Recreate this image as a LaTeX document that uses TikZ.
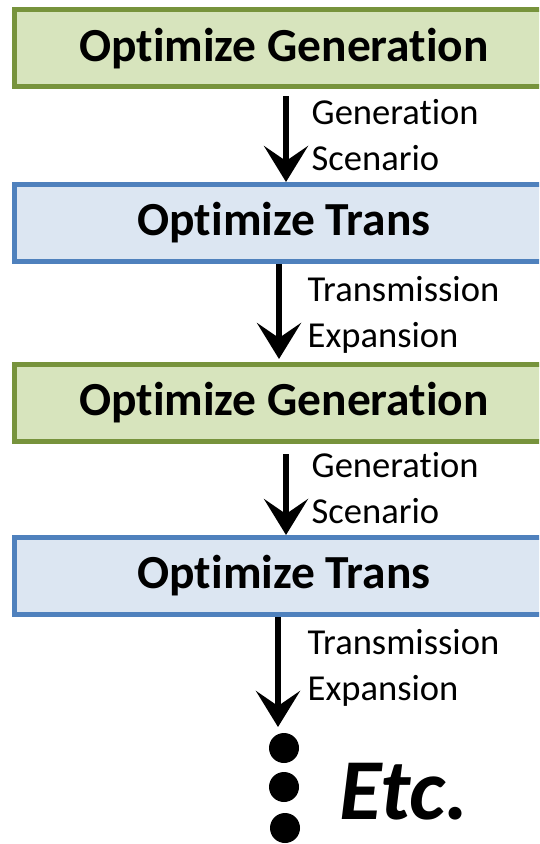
\documentclass[tikz,border=0pt]{standalone}
\usepackage{fontspec}
\setmainfont{Carlito}[RawFeature={-liga,-clig,-dlig}]
\usetikzlibrary{arrows.meta}
\definecolor{genline}{HTML}{77933C}
\definecolor{genfill}{HTML}{D7E4BD}
\definecolor{transline}{HTML}{4F81BD}
\definecolor{transfill}{HTML}{DCE6F2}
\tikzset{
  stage/.style={rectangle,line width=0.05cm,minimum width=5.38cm,minimum height=0.77cm,
    inner sep=0pt,font=\fontsize{13.5}{16}\selectfont\bfseries},
  genbox/.style={stage,draw=genline,fill=genfill},
  transbox/.style={stage,draw=transline,fill=transfill},
  flow/.style={line width=0.06cm,-{Stealth[length=0.36cm,width=0.44cm,inset=0.15cm]}},
  passed/.style={anchor=west,align=left,inner sep=0pt,font=\fontsize{10.4}{13.1}\selectfont}
}
\begin{document}
\begin{tikzpicture}
\useasboundingbox (0,0) rectangle (5.39,-8.44);
\begin{scope}
\clip (0,0) rectangle (5.39,-8.44);
\node[genbox] (gen1) at (2.84,-0.485) {Optimize Generation};
\node[transbox] (trans1) at (2.84,-2.23) {Optimize Trans};
\node[genbox] (gen2) at (2.84,-4.03) {Optimize Generation};
\node[transbox] (trans2) at (2.84,-5.76) {Optimize Trans};
\end{scope}
% what gets handed down between the stages
\draw[flow] ([xshift=0.02cm,yshift=-0.07cm]gen1.south) -- ([xshift=0.02cm]trans1.north);
\draw[flow] ([xshift=-0.05cm]trans1.south) -- ([xshift=-0.05cm,yshift=0.03cm]gen2.north);
\draw[flow] ([xshift=0.02cm,yshift=-0.1cm]gen2.south) -- ([xshift=0.02cm]trans2.north);
\coordinate (more) at (2.78,-7.27);
\draw[flow] ([xshift=-0.06cm]trans2.south) -- (more);
\node[passed] (gs1) at (3.11,-1.35) {Generation\\Scenario};
\node[passed] (te1) at (3.07,-3.15) {Transmission\\Expansion};
\node[passed] (gs2) at (3.11,-4.88) {Generation\\Scenario};
\node[passed] (te2) at (3.07,-6.68) {Transmission\\Expansion};
\fill[black] (2.84,-7.48) circle [radius=0.15];
\fill[black] (2.84,-7.87) circle [radius=0.15];
\fill[black] (2.85,-8.28) circle [radius=0.15];
\node[font=\fontsize{24.7}{28}\selectfont\bfseries\itshape] (etc) at (4.04,-7.92) {Etc.};
\end{tikzpicture}
\end{document}
